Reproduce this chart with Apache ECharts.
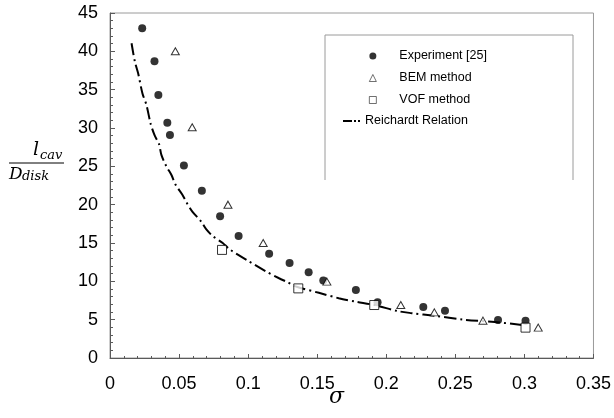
<!DOCTYPE html>
<html>
<head>
<meta charset="utf-8">
<script src="https://cdn.jsdelivr.net/npm/echarts@6/dist/echarts.min.js"></script>
<style>
html,body{margin:0;padding:0;background:#fff;}
#chart{width:614px;height:418px;}
</style>
</head>
<body>
<div id="chart"></div>
<script>
// experiment [25]
var expX = [0.0233,0.0322,0.035,0.0415,0.0434,0.0535,0.0665,0.0797,0.0931,0.1152,0.130,0.1438,0.1544,0.178,0.1937,0.2268,0.2425,0.2809,0.3008];
var expY = [43.0,38.7,34.3,30.7,29.1,25.1,21.8,18.5,15.9,13.6,12.4,11.2,10.1,8.87,7.26,6.65,6.17,4.96,4.87];
// BEM
var bemX = [0.0473,0.0595,0.0854,0.1109,0.157,0.2105,0.2348,0.270,0.310];
var bemY = [40.0,30.1,20.0,15.0,9.96,6.91,5.95,4.87,3.96];
// VOF
var vofX = [0.0811,0.1363,0.1913,0.3008];
var vofY = [14.1,9.08,6.91,3.96];
// Reichardt relation
var reiX = [0.0156,0.018,0.0204,0.0235,0.0264,0.0295,0.0324,0.0355,0.0372,0.0408,0.0444,0.0475,0.0524,0.0557,0.0596,0.066,0.0696,0.0744,0.0816,0.0864,0.0989,0.1128,0.1224,0.1284,0.1352,0.1512,0.1656,0.1777,0.1916,0.2088,0.2184,0.2353,0.2557,0.2785,0.2989];
var reiY = [41.05,38.65,37.1,34.5,33.0,30.5,29.0,27.9,26.5,25.0,23.9,22.6,21.3,20.2,19.1,17.8,16.8,15.9,15.0,14.2,12.8,11.3,10.4,9.9,9.3,8.5,7.8,7.35,6.9,6.1,5.85,5.5,5.0,4.7,4.3];

function pairs(xs, ys){
  var out = [];
  for(var i=0;i<xs.length;++i){ out.push([xs[i], ys[i]]); }
  return out;
}

var chart = echarts.init(document.getElementById('chart'));
var tickFont = {color:'#000', fontSize:18, fontFamily:'Liberation Sans, Arial, sans-serif'};
var legendFont = {color:'#000', fontSize:12.5, lineHeight:14, fontFamily:'Liberation Sans, Arial, sans-serif'};
var hollow = {color:'#fff', borderColor:'#000', borderWidth:0.7};
var option = {
  animation:false,
  backgroundColor:'#fff',
  grid:{left:110, right:18, top:13, bottom:60, show:true, borderColor:'#9a9a9a', borderWidth:1},
  xAxis:{
    type:'value', min:0, max:0.35, interval:0.05,
    axisLine:{onZero:false, lineStyle:{color:'#5a5a5a', width:1}},
    axisTick:{inside:true, length:4, lineStyle:{color:'#5a5a5a'}},
    minorTick:{show:true, splitNumber:5, length:2, lineStyle:{color:'#5a5a5a'}},
    splitLine:{show:false},
    axisLabel:Object.assign({margin:17}, tickFont)
  },
  yAxis:{
    type:'value', min:0, max:45, interval:5,
    axisLine:{show:true, onZero:false, lineStyle:{color:'#5a5a5a', width:1}},
    axisTick:{show:true, inside:true, length:5, lineStyle:{color:'#5a5a5a'}},
    minorTick:{show:true, splitNumber:5, length:3, lineStyle:{color:'#5a5a5a'}},
    splitLine:{show:false},
    axisLabel:Object.assign({margin:12}, tickFont)
  },
  legend:[
    {
      data:[
        {name:'Experiment [25]', icon:'circle', itemStyle:{color:'#000', borderWidth:0}},
        {name:'BEM method', icon:'triangle', itemStyle:hollow},
        {name:'VOF method', icon:'rect', itemStyle:hollow}
      ],
      orient:'vertical', left:369, top:49, padding:0,
      itemWidth:7, itemHeight:7, itemGap:8,
      textStyle:Object.assign({padding:[0,0,0,18]}, legendFont)
    },
    {
      data:[{name:'Reichardt Relation', icon:'path://M0,0h9v2h-9z M11,0h2v2h-2z M15,0h2v2h-2z', itemStyle:{color:'#000', borderWidth:0}}],
      orient:'vertical', left:343, top:114, padding:0,
      itemWidth:17, itemHeight:2,
      textStyle:legendFont
    }
  ],
  graphic:[
    {type:'polyline', shape:{points:[[325,180],[325,35],[573,35],[573,180]]}, style:{stroke:'#9a9a9a', fill:null, lineWidth:1}},
    {type:'line', shape:{x1:9, y1:163, x2:64, y2:163}, style:{stroke:'#000', lineWidth:1}},
    {type:'text', left:33, top:141, style:{text:'l', fill:'#000', font:'italic 19px DejaVu Serif, serif'}},
    {type:'text', left:40, top:149, style:{text:'cav', fill:'#000', font:'italic 13px DejaVu Serif, serif'}},
    {type:'text', left:9, top:166, style:{text:'D', fill:'#000', font:'italic 17px DejaVu Serif, serif'}},
    {type:'text', left:22, top:170, style:{text:'disk', fill:'#000', font:'italic 13px DejaVu Serif, serif'}},
    {type:'text', left:329, top:386, style:{text:'σ', fill:'#000', font:'italic 22px DejaVu Serif, serif'}}
  ],
  series:[
    {
      name:'Reichardt Relation', type:'line', smooth:0.3, symbol:'none', z:2,
      lineStyle:{color:'#000', width:2, type:[12,4,2,4]},
      itemStyle:{color:'#000'},
      data:pairs(reiX, reiY)
    },
    {
      name:'Experiment [25]', type:'scatter', symbol:'circle', symbolSize:8, z:3,
      itemStyle:{color:'#000'},
      data:pairs(expX, expY)
    },
    {
      name:'BEM method', type:'scatter', symbol:'triangle', symbolSize:[8,7], z:4,
      itemStyle:{color:'#fff', borderColor:'#000', borderWidth:1},
      data:pairs(bemX, bemY)
    },
    {
      name:'VOF method', type:'scatter', symbol:'rect', symbolSize:9, z:5,
      itemStyle:{color:'#fff', borderColor:'#000', borderWidth:1},
      data:pairs(vofX, vofY)
    }
  ]
};
chart.setOption(option);
</script>
</body>
</html>
